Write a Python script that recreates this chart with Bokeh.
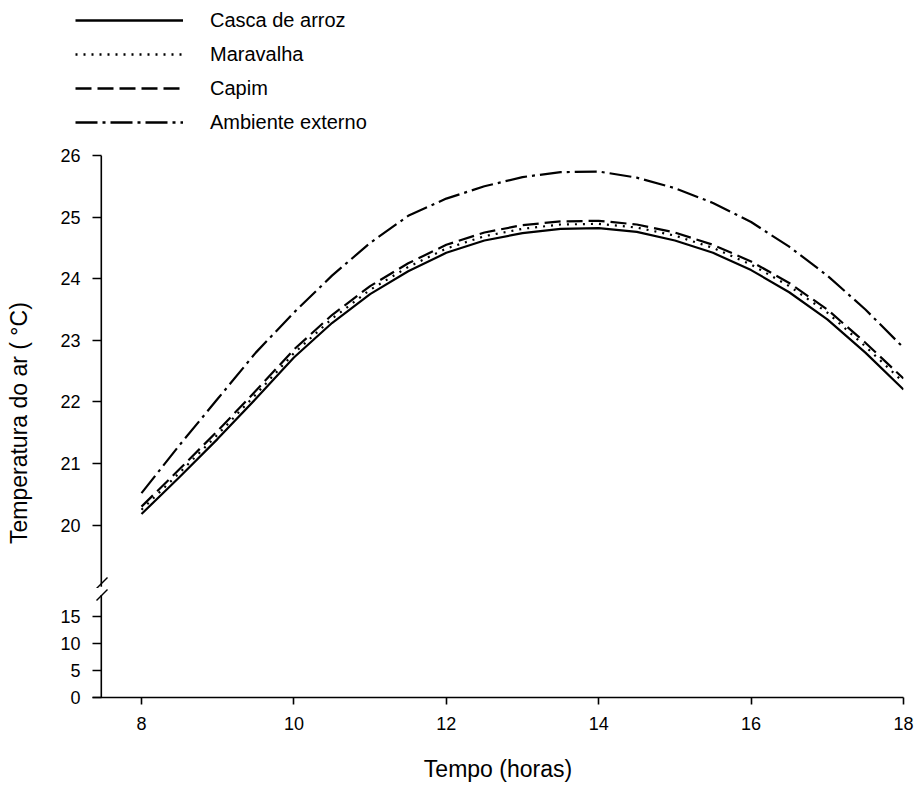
from bokeh.plotting import figure
from bokeh.layouts import column
from bokeh.models import Legend, LegendItem, Range1d, FixedTicker
from bokeh.embed import file_html
from bokeh.resources import INLINE

# ---- data ----
hours = [8.0, 8.5, 9.0, 9.5, 10.0, 10.5, 11.0, 11.5, 12.0, 12.5, 13.0,
         13.5, 14.0, 14.5, 15.0, 15.5, 16.0, 16.5, 17.0, 17.5, 18.0]
casca = [20.18, 20.78, 21.40, 22.05, 22.72, 23.28, 23.75, 24.12, 24.42, 24.62, 24.74,
         24.81, 24.82, 24.76, 24.62, 24.42, 24.14, 23.78, 23.34, 22.80, 22.20]
maravalha = [20.25, 20.85, 21.47, 22.12, 22.79, 23.35, 23.82, 24.19, 24.49, 24.69, 24.81,
             24.88, 24.89, 24.83, 24.70, 24.50, 24.23, 23.88, 23.45, 22.90, 22.32]
capim = [20.30, 20.91, 21.53, 22.18, 22.85, 23.41, 23.88, 24.25, 24.55, 24.75, 24.87,
         24.93, 24.94, 24.88, 24.75, 24.55, 24.28, 23.93, 23.50, 22.96, 22.38]
ambiente = [20.52, 21.30, 22.05, 22.80, 23.45, 24.05, 24.58, 25.02, 25.30, 25.50, 25.65,
            25.73, 25.74, 25.64, 25.47, 25.23, 24.92, 24.52, 24.05, 23.50, 22.88]
series_names = ["Casca de arroz", "Maravalha", "Capim", "Ambiente externo"]
upper_ticks = [20, 21, 22, 23, 24, 25, 26]
lower_ticks = [0, 5, 10, 15]
x_ticks = [8, 10, 12, 14, 16, 18]

series = [casca, maravalha, capim, ambiente]
dashes = ["solid", "2 6", "16 6", "22 5 3 5"]

FONT = "Liberation Sans"

# ---- page geometry (pixels) ----
FRAME_L, FRAME_R = 92, 903          # plot frames (the y axis line sits at ~101)
AXIS_PX = 100.8
X_PX_PER_H = 76.2
X0 = 8 - (141 - FRAME_L) / X_PX_PER_H
X1 = 18.0
UP_TOP, SPLIT, LO_BOT = 155, 588, 697
UP_PX_PER_U = 61.6
LO_PX_PER_U = 5.4
UP_Y0 = 26 - (SPLIT - UP_TOP) / UP_PX_PER_U
LO_Y1 = (LO_BOT - SPLIT) / LO_PX_PER_U
AXIS_X = X0 + (AXIS_PX - FRAME_L) / X_PX_PER_H
LEG_H = 140


def style_axes(p):
    for ax in p.axis:
        ax.axis_line_width = 1.6
        ax.major_tick_line_width = 1.6
        ax.major_tick_out = 7
        ax.major_tick_in = 0
        ax.minor_tick_line_color = None
        ax.major_label_text_font = FONT
        ax.major_label_text_font_size = "18px"
        ax.major_label_text_color = "black"
        ax.axis_label_text_font = FONT
        ax.axis_label_text_font_size = "23px"
        ax.axis_label_text_font_style = "normal"
        ax.axis_label_text_color = "black"
        ax.axis_line_color = "black"
        ax.major_tick_line_color = "black"
    for ax in p.yaxis:
        # y axis line is drawn separately (so it can be broken); ticks reach it
        ax.axis_line_color = None
        ax.major_tick_out = 0
        ax.major_tick_in = 9
        ax.major_label_standoff = 12
    p.grid.visible = False
    p.outline_line_color = None


def dx(px):
    return X0 + (px - FRAME_L) / X_PX_PER_H


# ---- legend figure ----
leg = figure(width=914, height=LEG_H, output_backend="svg", toolbar_location=None,
             x_range=Range1d(0, 1), y_range=Range1d(0, 1),
             min_border_left=0, min_border_right=0,
             min_border_top=0, min_border_bottom=0)
leg.axis.visible = False
leg.grid.visible = False
leg.outline_line_color = None
items = []
for name, d in zip(series_names, dashes):
    r = leg.line(x=[-5, -4], y=[-5, -4], line_color="black", line_width=2.6,
                 line_dash=d)
    items.append(LegendItem(label=name, renderers=[r]))
legend = Legend(items=items, location=(75, 6), orientation="vertical",
                glyph_width=108, glyph_height=20, label_height=24, spacing=10,
                label_standoff=27, padding=0, margin=0,
                border_line_color=None, background_fill_alpha=0,
                label_text_font=FONT, label_text_font_size="20px",
                label_text_color="black")
leg.add_layout(legend, "center")

# ---- upper figure (20-26) ----
up = figure(width=914, height=SPLIT - LEG_H, output_backend="svg", toolbar_location=None,
            x_range=Range1d(X0, X1), y_range=Range1d(UP_Y0, 26.0),
            min_border_left=FRAME_L, min_border_right=914 - FRAME_R,
            min_border_top=UP_TOP - LEG_H, min_border_bottom=0, x_axis_location=None)
for vals, d in zip(series, dashes):
    up.line(hours, vals, line_color="black", line_width=2.2, line_dash=d,
            line_join="round")
up.yaxis.ticker = FixedTicker(ticks=upper_ticks)
up.yaxis.axis_label = "Temperatura do ar ( °C)" + "\u00a0" * 16
style_axes(up)
up.yaxis.axis_label_standoff = 25
# broken y axis line (upper part) and its break stroke
up.segment(x0=[AXIS_X], y0=[19.0], x1=[AXIS_X], y1=[26.0],
           line_color="black", line_width=1.6)


def up_y(py):
    return 26 - (py - UP_TOP) / UP_PX_PER_U


up.segment(x0=[dx(96)], y0=[up_y(588)], x1=[dx(107)], y1=[up_y(577)],
           line_color="black", line_width=1.4)

# ---- lower figure (0-19) ----
lo = figure(width=914, height=787 - SPLIT, output_backend="svg", toolbar_location=None,
            x_range=up.x_range, y_range=Range1d(0, LO_Y1),
            min_border_left=FRAME_L, min_border_right=914 - FRAME_R,
            min_border_top=0, min_border_bottom=787 - LO_BOT)
lo.yaxis.ticker = FixedTicker(ticks=lower_ticks)
lo.xaxis.ticker = FixedTicker(ticks=x_ticks)
lo.xaxis.axis_label = "Tempo (horas)"
lo.xaxis.axis_label_standoff = 23
lo.xaxis.major_label_standoff = 12
style_axes(lo)
lo.segment(x0=[AXIS_X], y0=[0.0], x1=[AXIS_X], y1=[19.0],
           line_color="black", line_width=1.6)


def lo_y(py):
    return (LO_BOT - py) / LO_PX_PER_U


lo.segment(x0=[dx(96)], y0=[lo_y(600)], x1=[dx(107)], y1=[lo_y(589)],
           line_color="black", line_width=1.4)

layout = column(leg, column(up, lo, spacing=0), spacing=0)
open("out.html", "w").write(file_html(layout, INLINE))
